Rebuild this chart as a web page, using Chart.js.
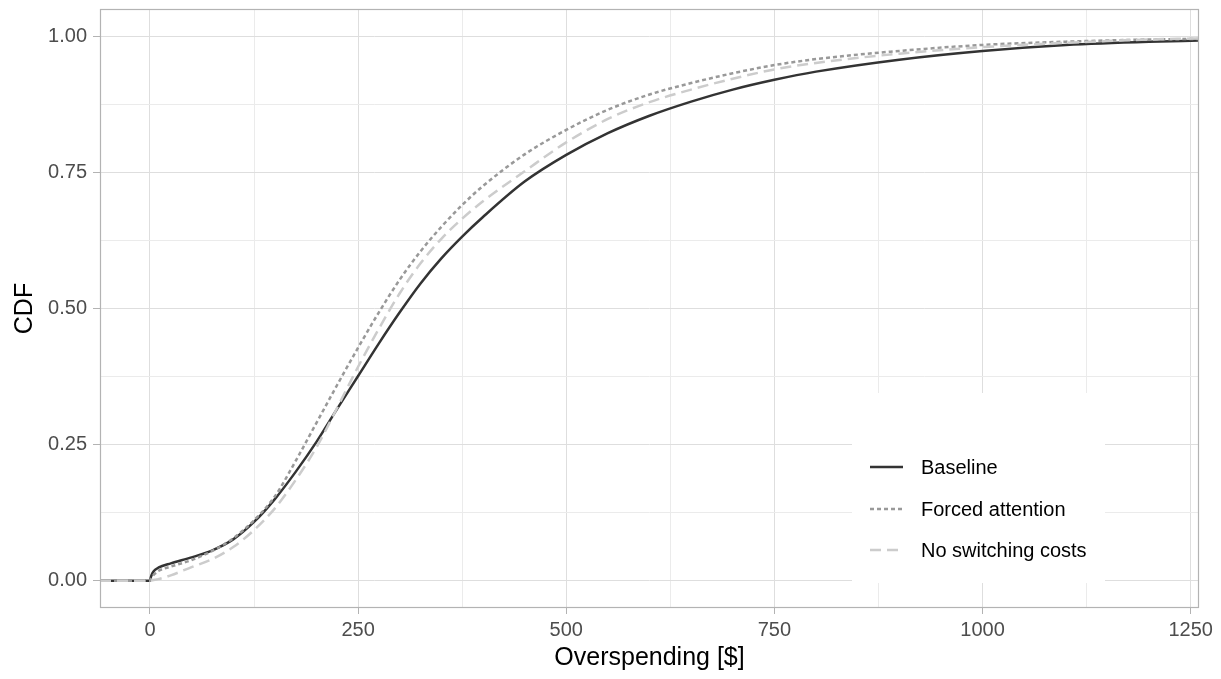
<!DOCTYPE html>
<html>
<head>
<meta charset="utf-8">
<script src="https://cdn.jsdelivr.net/npm/chart.js@4.4.1/dist/chart.umd.min.js"></script>
<style>
  body { margin: 0; background: #fff; }
  #wrap { width: 1221px; height: 679px; }
</style>
</head>
<body>
<div id="wrap"><canvas id="cdfChart" width="1221" height="679"></canvas></div>
<script>
// Overspending values ($) where the CDFs were read
const overspending = [-60, 0, 1, 3, 6, 10, 25, 50, 75, 100, 125, 150, 175, 200, 225, 250, 275, 300,
    325, 350, 375, 400, 450, 500, 550, 600, 650, 700, 750, 800, 900, 1000, 1100, 1200, 1260];

const baselineCdf = [0, 0, 0.006, 0.014, 0.02, 0.024, 0.032, 0.043, 0.056, 0.076, 0.108, 0.15, 0.2, 0.255, 0.316, 0.376, 0.436, 0.493,
    0.546, 0.592, 0.632, 0.668, 0.733, 0.782, 0.822, 0.854, 0.88, 0.902, 0.92, 0.935, 0.957, 0.973, 0.984, 0.99, 0.992];

const forcedCdf = [0, 0, 0.003, 0.008, 0.013, 0.018, 0.026, 0.038, 0.055, 0.078, 0.111, 0.155, 0.22, 0.29, 0.36, 0.428, 0.493, 0.553,
    0.605, 0.65, 0.69, 0.725, 0.783, 0.828, 0.865, 0.893, 0.914, 0.932, 0.947, 0.958, 0.973, 0.984, 0.99, 0.994, 0.995];

const noSwitchCdf = [0, 0, 0, 0.001, 0.002, 0.003, 0.01, 0.025, 0.04, 0.062, 0.093, 0.133, 0.185, 0.245, 0.318, 0.393, 0.463, 0.528,
    0.583, 0.628, 0.665, 0.697, 0.752, 0.805, 0.848, 0.879, 0.902, 0.922, 0.939, 0.951, 0.968, 0.98, 0.988, 0.994, 0.996];

const seriesNames = ["Baseline", "Forced attention", "No switching costs"];

const xMajorTicks = [0, 250, 500, 750, 1000, 1250];
const yMajorTicks = [0, 0.25, 0.5, 0.75, 1];

const FONT = "'Liberation Sans', Arial, Helvetica, sans-serif";

function toPoints(ys) {
    return overspending.map((x, i) => ({ x: x, y: ys[i] }));
}

// majors plus the minor lines half way between them
function withMinors(majors) {
    const out = [];
    majors.forEach((v, i) => {
        if (i > 0) out.push({ value: (majors[i - 1] + v) / 2, minor: true });
        out.push({ value: v, minor: false });
    });
    return out;
}

function isMajor(list, v) {
    return list.some(m => Math.abs(m - v) < 1e-9);
}

// ggplot-like panel border, drawn over the lines
const panelBorder = {
    id: "panelBorder",
    afterDatasetsDraw(chart) {
        const { ctx, chartArea: a } = chart;
        ctx.save();
        ctx.strokeStyle = "#b3b3b3";
        ctx.lineWidth = 1.2;
        ctx.strokeRect(a.left + 0.5, a.top + 0.5, a.right - a.left - 1, a.bottom - a.top - 1);
        ctx.restore();
    }
};

// legend box inside the panel (bottom right)
const insideLegend = {
    id: "insideLegend",
    afterDraw(chart) {
        const { ctx, chartArea: a } = chart;
        const boxL = a.right - 347, boxR = a.right - 94;
        const boxT = a.bottom - 215, boxB = a.bottom - 25;
        ctx.save();
        ctx.fillStyle = "#fff";
        ctx.fillRect(boxL, boxT, boxR - boxL, boxB - boxT);
        const rows = [467, 509, 550];
        chart.data.datasets.forEach((ds, i) => {
            const y = rows[i];
            ctx.beginPath();
            ctx.strokeStyle = ds.borderColor;
            ctx.lineWidth = ds.borderWidth;
            ctx.setLineDash(ds.borderDash || []);
            ctx.moveTo(boxL + 18, y);
            ctx.lineTo(boxL + 51, y);
            ctx.stroke();
            ctx.setLineDash([]);
            ctx.fillStyle = "#000";
            ctx.font = "20px " + FONT;
            ctx.textBaseline = "middle";
            ctx.fillText(ds.label, boxL + 69, y + 1);
        });
        ctx.restore();
    }
};

const ctx = document.getElementById("cdfChart").getContext("2d");

new Chart(ctx, {
    type: "line",
    data: {
        datasets: [
            {
                label: seriesNames[0],
                data: toPoints(baselineCdf),
                borderColor: "#333333",
                borderWidth: 2.5,
                order: 3
            },
            {
                label: seriesNames[1],
                data: toPoints(forcedCdf),
                borderColor: "#999999",
                borderWidth: 2.5,
                borderDash: [4, 3],
                order: 2
            },
            {
                label: seriesNames[2],
                data: toPoints(noSwitchCdf),
                borderColor: "#cccccc",
                borderWidth: 2.5,
                borderDash: [11, 6],
                order: 1
            }
        ]
    },
    options: {
        responsive: false,
        animation: false,
        events: [],
        layout: { padding: { top: 9, right: 22, left: 0, bottom: 0 } },
        elements: {
            point: { radius: 0 },
            line: { cubicInterpolationMode: "monotone", fill: false }
        },
        plugins: {
            legend: { display: false },
            tooltip: { enabled: false }
        },
        scales: {
            x: {
                type: "linear",
                min: -60,
                max: 1260,
                afterBuildTicks: scale => { scale.ticks = withMinors(xMajorTicks); },
                afterFit: scale => {
                    scale.height = 71;
                    scale.paddingLeft = 0;
                    scale.paddingRight = 0;
                },
                border: { display: false },
                grid: {
                    color: c => (c.tick && c.tick.minor) ? "#ebebeb" : "#dedede",
                    lineWidth: 1,
                    tickLength: 6,
                    tickColor: c => (c.tick && c.tick.minor) ? "rgba(0,0,0,0)" : "#b3b3b3"
                },
                ticks: {
                    autoSkip: false,
                    maxRotation: 0,
                    padding: 4,
                    color: "#4d4d4d",
                    font: { family: FONT, size: 20 },
                    callback: v => isMajor(xMajorTicks, v) ? String(v) : ""
                },
                title: {
                    display: true,
                    text: "Overspending [$]",
                    color: "#000",
                    font: { family: FONT, size: 25 },
                    padding: { top: 0, bottom: 6 }
                }
            },
            y: {
                type: "linear",
                min: -0.05,
                max: 1.05,
                afterBuildTicks: scale => { scale.ticks = withMinors(yMajorTicks); },
                afterFit: scale => {
                    scale.width = 100;
                    scale.paddingTop = 0;
                    scale.paddingBottom = 0;
                },
                border: { display: false },
                grid: {
                    color: c => (c.tick && c.tick.minor) ? "#ebebeb" : "#dedede",
                    lineWidth: 1,
                    tickLength: 7,
                    tickColor: c => (c.tick && c.tick.minor) ? "rgba(0,0,0,0)" : "#b3b3b3"
                },
                ticks: {
                    autoSkip: false,
                    padding: 6,
                    color: "#4d4d4d",
                    font: { family: FONT, size: 20 },
                    callback: v => isMajor(yMajorTicks, v) ? v.toFixed(2) : ""
                },
                title: {
                    display: true,
                    text: "CDF",
                    color: "#000",
                    font: { family: FONT, size: 25 },
                    padding: { top: 10, bottom: 0 }
                }
            }
        }
    },
    plugins: [panelBorder, insideLegend]
});
</script>
</body>
</html>
